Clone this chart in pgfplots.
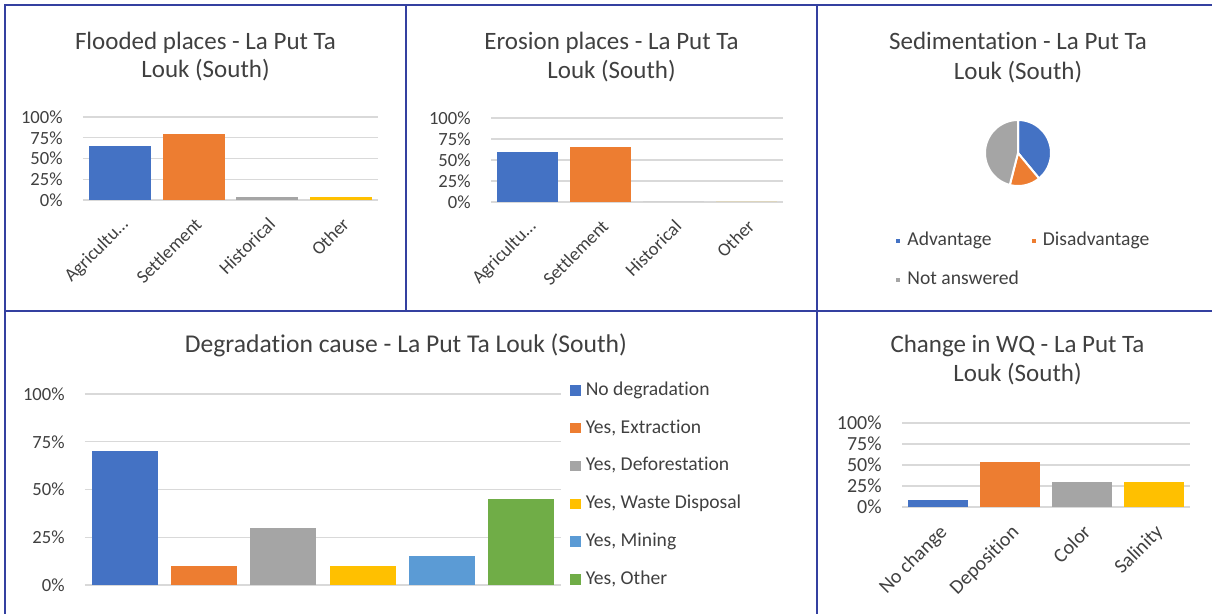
\documentclass[border=0pt]{standalone}
\usepackage{fontspec}
\setmainfont{Carlito}[Ligatures=CommonOff]
\usepackage{pgfplots}
\pgfplotsset{compat=1.18}

\definecolor{xlblue}{HTML}{4472C4}
\definecolor{xlorange}{HTML}{ED7D31}
\definecolor{xlgray}{HTML}{A5A5A5}
\definecolor{xlgold}{HTML}{FFC000}
\definecolor{xllblue}{HTML}{5B9BD5}
\definecolor{xlgreen}{HTML}{70AD47}
\definecolor{xlgrid}{HTML}{D9D9D9}
\definecolor{xltext}{HTML}{404040}
\definecolor{frame}{RGB}{52,64,160}

\newcommand\titlefont{\fontsize{12.5}{14}\selectfont}
\newcommand\tickfont{\fontsize{9.3}{11}\selectfont}
\newcommand\legfont{\fontsize{9.8}{11}\selectfont}

\pgfplotsset{
  xlbar/.style={
    scale only axis, ybar, bar shift=0pt,
    ymin=0, ymax=100, ytick={0,25,50,75,100},
    yticklabel={\pgfmathprintnumber{\tick}\%},
    /pgf/number format/assume math mode=true,
    ymajorgrids, major grid style={draw=xlgrid, line width=0.6pt},
    axis line style={draw=none}, major tick length=0pt,
    tick label style={font=\tickfont, text=xltext},
    yticklabel style={anchor=east, inner sep=0pt},
    yticklabel shift=10pt,
    xticklabel style={rotate=45, anchor=north east, inner sep=0pt},
    xticklabel shift=8pt,
    xmin=-0.5, clip=false,
  },
  sqlegend/.style={legend image code/.code={\fill[##1] (0pt,-#1) rectangle (2*#1,#1);}},
  xllegend/.style={legend cell align=left,
    legend style={draw=none, fill=none, inner sep=0pt,
    font=\legfont, text=xltext, column sep=1.5pt,
    nodes={inner sep=1pt, text height=7pt, text depth=2pt}}},
}

\begin{document}
\begin{tikzpicture}
\useasboundingbox (0,0) rectangle (606pt,-307pt);

% panel frames
\draw[frame, line width=0.7pt] (2.5pt,-307pt) -- (2.5pt,-2.5pt) -- (606pt,-2.5pt);
\draw[frame, line width=0.7pt] (2.5pt,-155.5pt) -- (606pt,-155.5pt);
\draw[frame, line width=0.7pt] (203pt,-2.5pt) -- (203pt,-155.5pt);
\draw[frame, line width=0.7pt] (408.5pt,-2.5pt) -- (408.5pt,-307pt);

% titles
\begin{scope}[every node/.style={font=\titlefont, text=xltext, anchor=base, inner sep=0pt}]
\node at (102.75pt,-25pt) {Flooded places - La Put Ta};
\node at (102.75pt,-39pt) {Louk (South)};
\node at (305.75pt,-25pt) {Erosion places - La Put Ta};
\node at (305.75pt,-39.5pt) {Louk (South)};
\node at (509pt,-25pt) {Sedimentation - La Put Ta};
\node at (509pt,-40pt) {Louk (South)};
\node[font=\fontsize{12.8}{14}\selectfont] at (203pt,-176.5pt) {Degradation cause - La Put Ta Louk (South)};
\node at (508.75pt,-176.5pt) {Change in WQ - La Put Ta};
\node at (508.75pt,-191pt) {Louk (South)};
\end{scope}

% Flooded places
\begin{axis}[xlbar, at={(41.5pt,-100pt)}, anchor=south west,
  width=147.5pt, height=41.5pt, xmax=3.5, bar width=0.84,
  xtick={0,1,2,3}, xticklabels={Agricultu…,Settlement,Historical,Other}]
\addplot[fill=xlblue, draw=none] coordinates {(0,65)};
\addplot[fill=xlorange, draw=none] coordinates {(1,80)};
\addplot[fill=xlgray, draw=none] coordinates {(2,4)};
\addplot[fill=xlgold, draw=none] coordinates {(3,4)};
\end{axis}

% Erosion places
\begin{axis}[xlbar, at={(245.5pt,-101pt)}, anchor=south west,
  width=146pt, height=42pt, xmax=3.5, bar width=0.835,
  xtick={0,1,2,3}, xticklabels={Agricultu…,Settlement,Historical,Other}]
\addplot[fill=xlblue, draw=none] coordinates {(0,59)};
\addplot[fill=xlorange, draw=none] coordinates {(1,65)};
\addplot[fill=xlgray, draw=none] coordinates {(2,0)};
\addplot[fill=xlgold, draw=none] coordinates {(3,0)};
\end{axis}

% Sedimentation pie: shares in percent
\def\pAdv{39}
\def\pDis{15}
\def\pNot{46}
\begin{axis}[scale only axis, at={(509pt,-76.5pt)}, anchor=center,
  width=33pt, height=33pt, hide axis,
  xmin=-1, xmax=1, ymin=-1, ymax=1, clip=false,
  sqlegend=1.5pt, legend columns=2, xllegend,
  legend style={at={(-1.378,-0.66)}, anchor=north west, row sep=8.5pt,
    /tikz/every even column/.append style={column sep=4.5pt}}]
\addplot[fill=xlblue, draw=white, line width=1pt, domain=0:\pAdv*3.6, samples=40]
  ({sin(x)},{cos(x)}) -- (0,0) -- cycle;
\addlegendentry{Advantage}
\addplot[fill=xlorange, draw=white, line width=1pt, domain=\pAdv*3.6:(\pAdv+\pDis)*3.6, samples=20]
  ({sin(x)},{cos(x)}) -- (0,0) -- cycle;
\addlegendentry{Disadvantage}
\addplot[fill=xlgray, draw=white, line width=1pt, domain=(\pAdv+\pDis)*3.6:360, samples=40]
  ({sin(x)},{cos(x)}) -- (0,0) -- cycle;
\addlegendentry{Not answered}
\end{axis}

% Degradation cause
\begin{axis}[xlbar, at={(42.5pt,-292.5pt)}, anchor=south west,
  width=238pt, height=95.5pt, xmax=5.5, bar width=0.83, xtick=\empty,
  sqlegend=2.6pt, xllegend,
  legend style={at={(1.019,1.079)}, anchor=north west, row sep=7.9pt}]
\addplot[fill=xlblue, draw=none] coordinates {(0,70)};
\addlegendentry{No degradation}
\addplot[fill=xlorange, draw=none] coordinates {(1,10)};
\addlegendentry{Yes, Extraction}
\addplot[fill=xlgray, draw=none] coordinates {(2,30)};
\addlegendentry{Yes, Deforestation}
\addplot[fill=xlgold, draw=none] coordinates {(3,10)};
\addlegendentry{Yes, Waste Disposal}
\addplot[fill=xllblue, draw=none] coordinates {(4,15)};
\addlegendentry{Yes, Mining}
\addplot[fill=xlgreen, draw=none] coordinates {(5,45)};
\addlegendentry{Yes, Other}
\end{axis}

% Change in WQ
\begin{axis}[xlbar, at={(451pt,-253.5pt)}, anchor=south west,
  width=144pt, height=42pt, xmax=3.5, bar width=0.82,
  tick label style={font=\fontsize{10}{12}\selectfont},
  xtick={0,1,2,3}, xticklabels={No change,Deposition,Color,Salinity}]
\addplot[fill=xlblue, draw=none] coordinates {(0,8)};
\addplot[fill=xlorange, draw=none] coordinates {(1,54)};
\addplot[fill=xlgray, draw=none] coordinates {(2,30)};
\addplot[fill=xlgold, draw=none] coordinates {(3,30)};
\end{axis}
\end{tikzpicture}
\end{document}
